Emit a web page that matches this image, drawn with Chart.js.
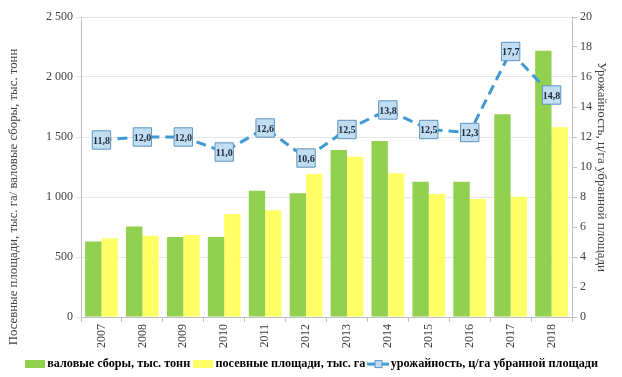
<!DOCTYPE html>
<html>
<head>
<meta charset="utf-8">
<script src="https://cdn.jsdelivr.net/npm/chart.js@4.4.1/dist/chart.umd.min.js"></script>
<style>
  html, body { margin: 0; padding: 0; background: #fff; }
  #wrap { width: 622px; height: 377px; }
</style>
</head>
<body>
<div id="wrap"><canvas id="chart"></canvas></div>
<script>
const years = ['2007', '2008', '2009', '2010', '2011', '2012', '2013', '2014', '2015', '2016', '2017', '2018'];
const grossHarvest = [630, 755, 667, 667, 1053, 1031, 1392, 1467, 1128, 1128, 1689, 2219];
const sownArea = [655, 678, 683, 858, 889, 1192, 1336, 1197, 1025, 983, 1003, 1581];
const yieldPerHa = [11.8, 12.0, 12.0, 11.0, 12.6, 10.6, 12.5, 13.8, 12.5, 12.3, 17.7, 14.8];
const leftTitle = 'Посевные площади, тыс. га/ валовые сборы, тыс. тонн';

const serif = '"Liberation Serif", "Times New Roman", serif';
const green = '#92d050';
const yellow = '#ffff66';
const lineBlue = '#3f9ad3';
const boxFill = '#c0ddf1';
const boxBorder = '#5d94bd';

// small canvases used as legend symbols
function swatch(color) {
  const c = document.createElement('canvas');
  c.width = 20; c.height = 8;
  const g = c.getContext('2d');
  g.fillStyle = color;
  g.fillRect(0, 0, 20, 8);
  return c;
}
function lineSwatch() {
  const c = document.createElement('canvas');
  c.width = 22; c.height = 10;
  const g = c.getContext('2d');
  g.strokeStyle = lineBlue;
  g.lineWidth = 3;
  g.beginPath(); g.moveTo(0, 5); g.lineTo(22, 5); g.stroke();
  g.fillStyle = boxFill;
  g.strokeStyle = boxBorder;
  g.lineWidth = 1;
  g.fillRect(7, 1, 8, 8);
  g.strokeRect(7.5, 1.5, 7, 7);
  return c;
}

const tweaks = {
  id: 'tweaks',
  beforeLayout(chart) {
    // fixed legend height so the plot area lines up with the source
    const lg = chart.legend;
    if (lg && !lg._patched) {
      const fit = lg.fit;
      lg.fit = function () { fit.call(this); this.height = 26; };
      lg._patched = true;
    }
  },
  afterLayout(chart) {
    chart.legend.left += 5;
    chart.legend.right += 5;
  },
  afterDatasetsDraw(chart) {
    const meta = chart.getDatasetMeta(2);
    const ctx = chart.ctx;
    ctx.save();
    ctx.font = 'bold 10px ' + serif;
    ctx.fillStyle = '#1d2b3a';
    ctx.textAlign = 'center';
    ctx.textBaseline = 'middle';
    meta.data.forEach((pt, i) => {
      ctx.fillText(yieldPerHa[i].toFixed(1).replace('.', ','), pt.x, pt.y + 1);
    });
    ctx.restore();
  },
  afterDraw(chart) {
    // left axis title sits lower than the plot centre in the source
    const ctx = chart.ctx;
    ctx.save();
    ctx.translate(14, 197);
    ctx.rotate(-Math.PI / 2);
    ctx.font = '12.8px ' + serif;
    ctx.fillStyle = '#404040';
    ctx.textAlign = 'center';
    ctx.textBaseline = 'middle';
    ctx.fillText(leftTitle, 0, 0);
    ctx.restore();
  }
};

const fmt = v => String(v).replace(/\B(?=(\d{3})+(?!\d))/g, ' ');

new Chart(document.getElementById('chart'), {
  type: 'bar',
  data: {
    labels: years,
    datasets: [{
      label: 'валовые сборы, тыс. тонн',
      data: grossHarvest,
      backgroundColor: green,
      yAxisID: 'y',
      order: 2,
      categoryPercentage: 0.8,
      barPercentage: 1.0
    }, {
      label: 'посевные площади, тыс. га',
      data: sownArea,
      backgroundColor: yellow,
      yAxisID: 'y',
      order: 2,
      categoryPercentage: 0.8,
      barPercentage: 1.0
    }, {
      type: 'line',
      label: 'урожайность, ц/га убранной площади',
      data: yieldPerHa,
      yAxisID: 'y1',
      order: 1,
      borderColor: lineBlue,
      borderWidth: 3,
      borderDash: [10, 6],
      pointStyle: 'rect',
      pointRadius: 13,
      pointHoverRadius: 13,
      pointBackgroundColor: boxFill,
      pointBorderColor: boxBorder,
      pointBorderWidth: 1,
      tension: 0
    }]
  },
  plugins: [tweaks],
  options: {
    responsive: true,
    maintainAspectRatio: false,
    animation: false,
    layout: { padding: { left: 4, right: 9, top: 17, bottom: 0 } },
    scales: {
      x: {
        grid: { drawOnChartArea: false, color: '#bfbfbf', tickLength: 5, offset: true },
        border: { color: '#bfbfbf' },
        ticks: {
          minRotation: 90, maxRotation: 90,
          font: { family: serif, size: 12 }, color: '#404040', padding: 2
        },
        afterFit(scale) { scale.height = 34; }
      },
      y: {
        position: 'left',
        min: 0, max: 2500,
        ticks: {
          stepSize: 500,
          font: { family: serif, size: 12 }, color: '#404040',
          callback: v => fmt(v)
        },
        grid: { color: '#e6e6e6', tickLength: 5 },
        border: { color: '#bfbfbf' },
        afterFit(scale) { scale.width = 77; }
      },
      y1: {
        position: 'right',
        min: 0, max: 20,
        ticks: {
          stepSize: 2,
          font: { family: serif, size: 12 }, color: '#404040'
        },
        grid: { drawOnChartArea: false, color: '#bfbfbf', tickLength: 5 },
        border: { color: '#bfbfbf' },
        title: {
          display: true,
          text: 'Урожайность, ц/га убранной площади',
          font: { family: serif, size: 13 }, color: '#404040',
          padding: { top: 4, bottom: 2 }
        },
        afterFit(scale) { scale.width = 41; }
      }
    },
    plugins: {
      tooltip: { enabled: false },
      legend: {
        position: 'bottom',
        labels: {
          usePointStyle: true,
          font: { family: serif, size: 12.2, weight: 'bold' },
          color: '#262626',
          padding: 7,
          generateLabels(chart) {
            return chart.data.datasets.map((ds, i) => ({
              text: ds.label,
              pointStyle: i === 2 ? lineSwatch() : swatch(ds.backgroundColor),
              fillStyle: 'transparent',
              strokeStyle: 'transparent',
              lineWidth: 0,
              datasetIndex: i
            }));
          }
        }
      }
    }
  }
});
</script>
</body>
</html>
